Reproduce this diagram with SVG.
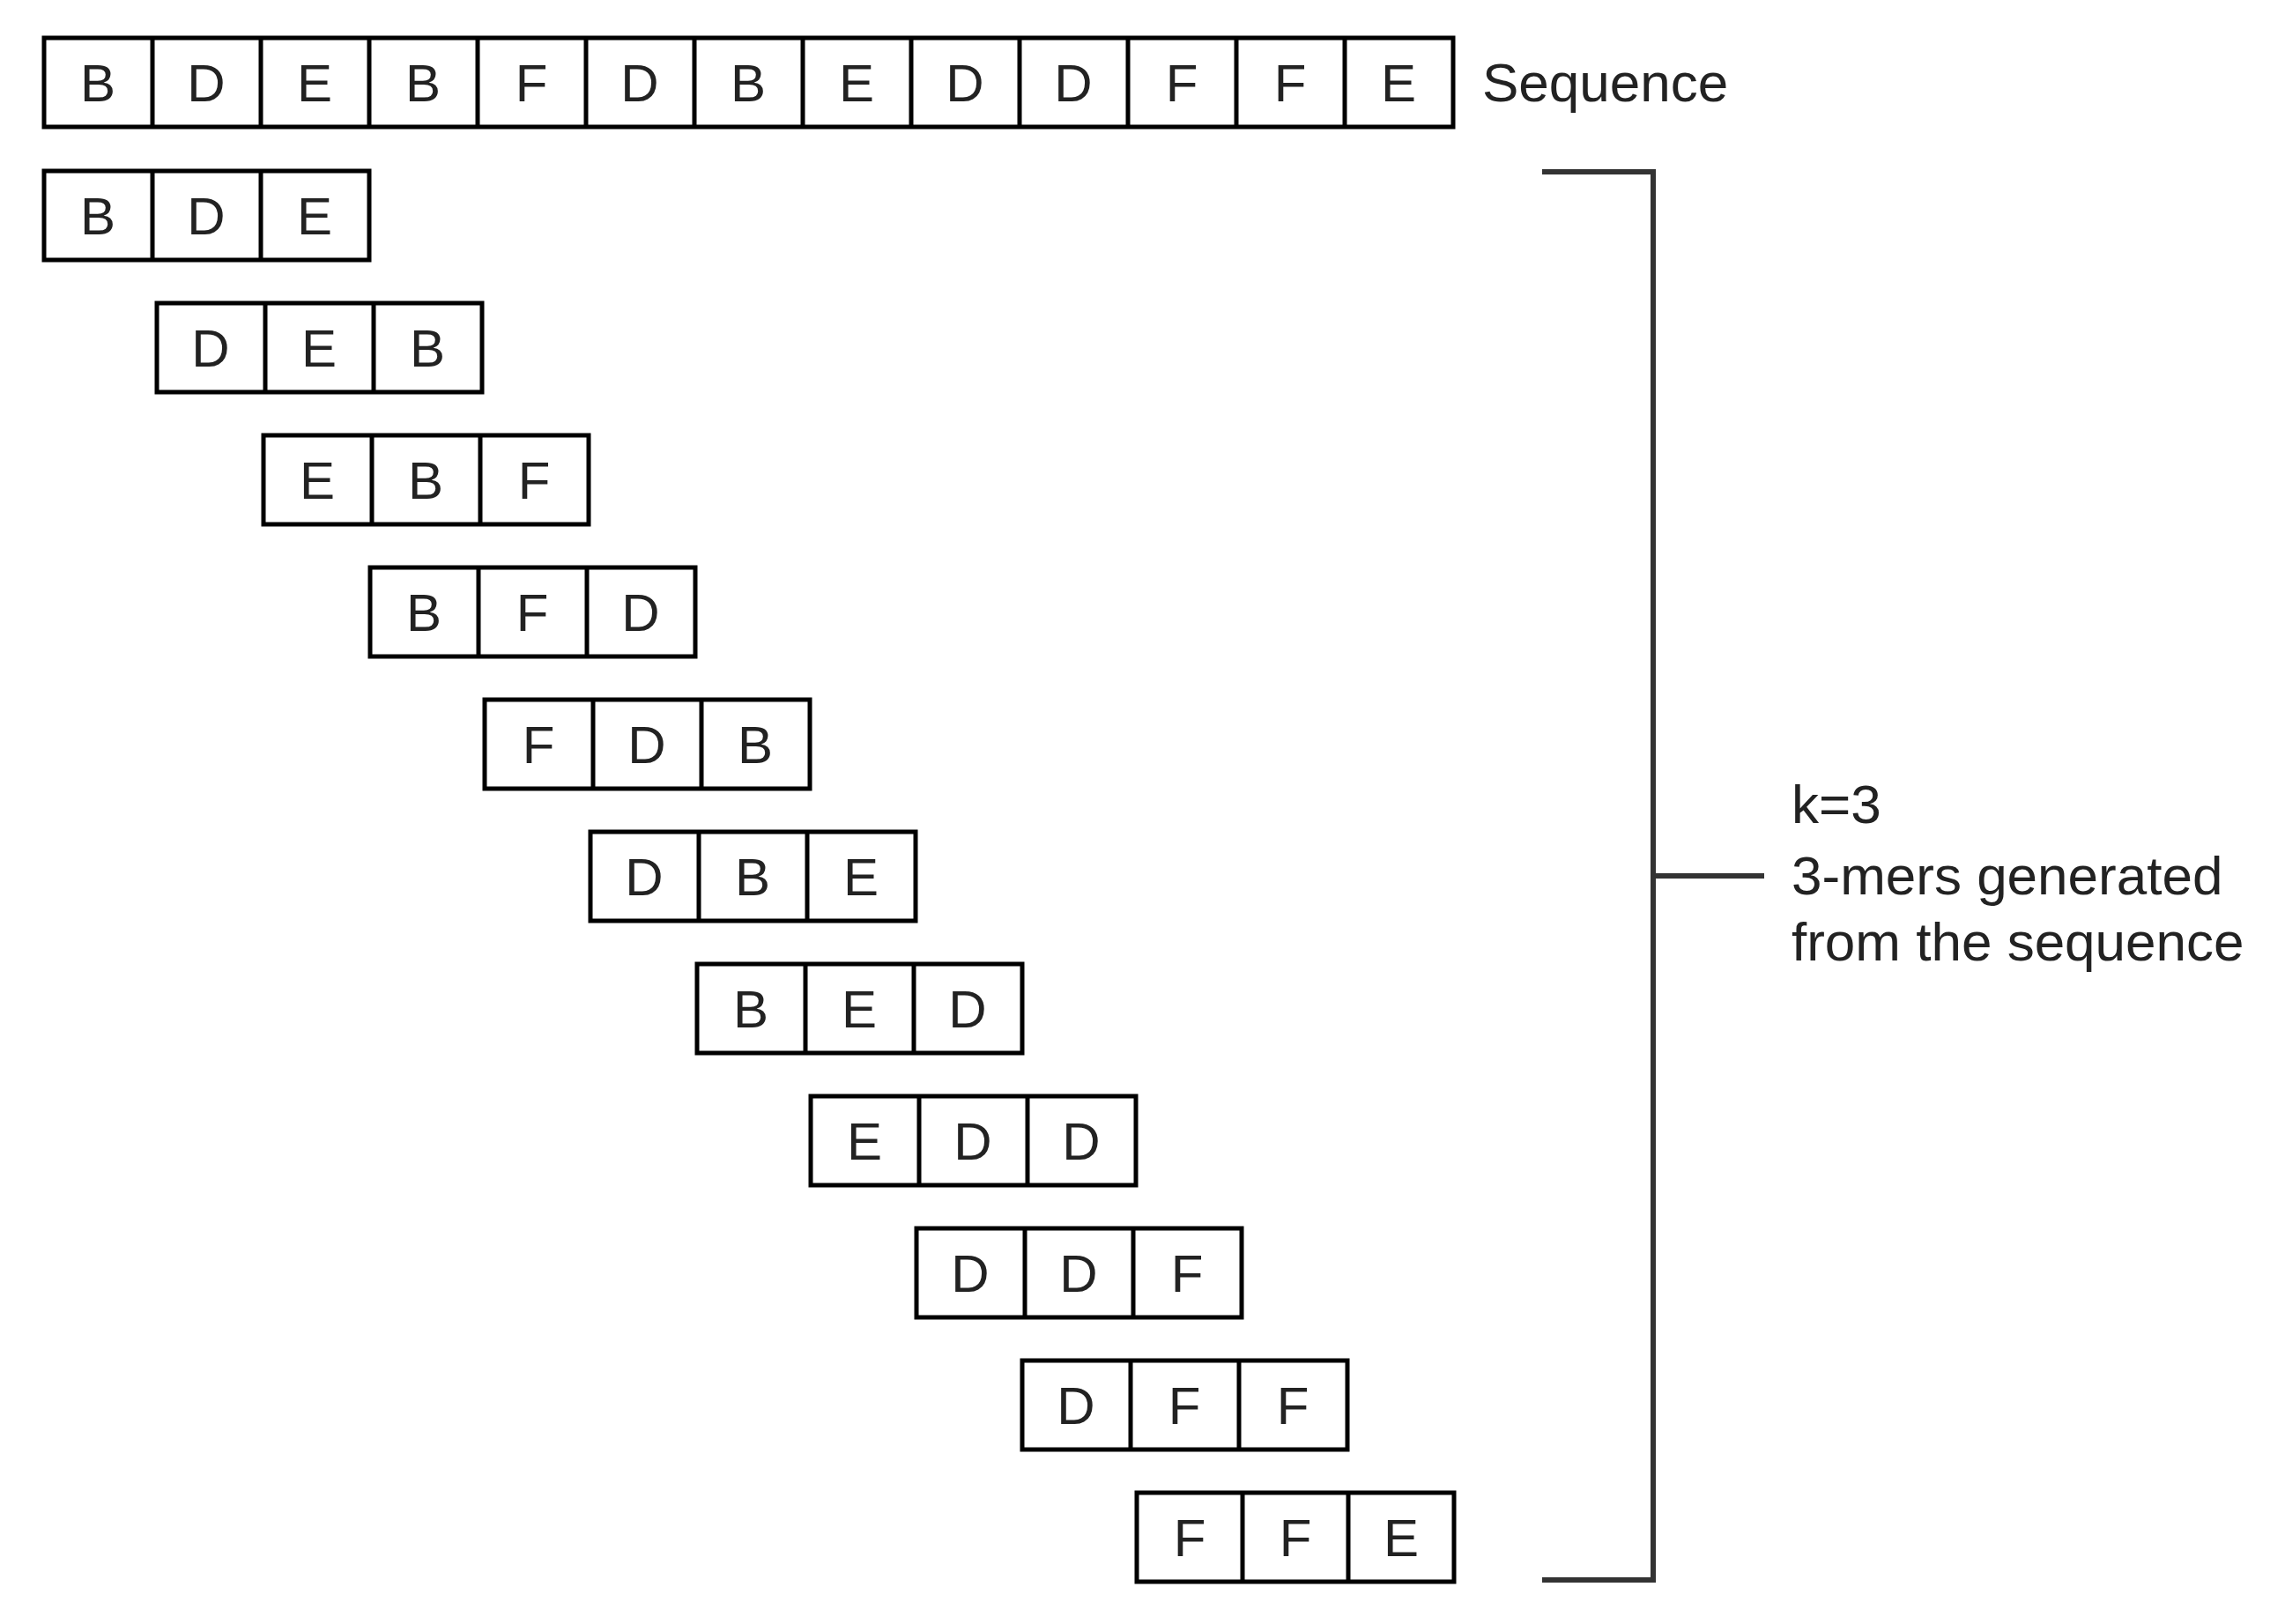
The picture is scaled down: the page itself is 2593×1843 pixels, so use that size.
<svg xmlns="http://www.w3.org/2000/svg" width="2593" height="1843" viewBox="0 0 2593 1843">
<style>
.c{fill:#fff;stroke:#000;stroke-width:5}
.t{font-family:"Liberation Sans",Arial,sans-serif;font-size:60px;fill:#222;text-anchor:middle}
.l{font-family:"Liberation Sans",Arial,sans-serif;font-size:62px;fill:#222}
.b{fill:none;stroke:#333;stroke-width:6}
</style>
<rect width="2593" height="1843" fill="#fff"/>
<g id="sequence">
<rect class="c" x="50" y="43" width="1599" height="101"/>
<g stroke="#000" stroke-width="5">
<line x1="173" y1="43" x2="173" y2="144"/><line x1="296" y1="43" x2="296" y2="144"/><line x1="419" y1="43" x2="419" y2="144"/><line x1="542" y1="43" x2="542" y2="144"/><line x1="665" y1="43" x2="665" y2="144"/><line x1="788" y1="43" x2="788" y2="144"/><line x1="911" y1="43" x2="911" y2="144"/><line x1="1034" y1="43" x2="1034" y2="144"/><line x1="1157" y1="43" x2="1157" y2="144"/><line x1="1280" y1="43" x2="1280" y2="144"/><line x1="1403" y1="43" x2="1403" y2="144"/><line x1="1526" y1="43" x2="1526" y2="144"/>
</g>
<g class="t">
<text x="111" y="115">B</text><text x="234" y="115">D</text><text x="357" y="115">E</text><text x="480" y="115">B</text><text x="603" y="115">F</text><text x="726" y="115">D</text><text x="849" y="115">B</text><text x="972" y="115">E</text><text x="1095" y="115">D</text><text x="1218" y="115">D</text><text x="1341" y="115">F</text><text x="1464" y="115">F</text><text x="1587" y="115">E</text>
</g>
<text class="l" x="1682" y="115">Sequence</text>
</g>
<g id="kmers">
<g id="k0" transform="translate(50,194)"><rect class="c" width="369" height="101"/><line x1="123" y1="0" x2="123" y2="101" stroke="#000" stroke-width="5"/><line x1="246" y1="0" x2="246" y2="101" stroke="#000" stroke-width="5"/><text class="t" x="61" y="72">B</text><text class="t" x="184" y="72">D</text><text class="t" x="307" y="72">E</text></g>
<g id="k1" transform="translate(178,344)"><rect class="c" width="369" height="101"/><line x1="123" y1="0" x2="123" y2="101" stroke="#000" stroke-width="5"/><line x1="246" y1="0" x2="246" y2="101" stroke="#000" stroke-width="5"/><text class="t" x="61" y="72">D</text><text class="t" x="184" y="72">E</text><text class="t" x="307" y="72">B</text></g>
<g id="k2" transform="translate(299,494)"><rect class="c" width="369" height="101"/><line x1="123" y1="0" x2="123" y2="101" stroke="#000" stroke-width="5"/><line x1="246" y1="0" x2="246" y2="101" stroke="#000" stroke-width="5"/><text class="t" x="61" y="72">E</text><text class="t" x="184" y="72">B</text><text class="t" x="307" y="72">F</text></g>
<g id="k3" transform="translate(420,644)"><rect class="c" width="369" height="101"/><line x1="123" y1="0" x2="123" y2="101" stroke="#000" stroke-width="5"/><line x1="246" y1="0" x2="246" y2="101" stroke="#000" stroke-width="5"/><text class="t" x="61" y="72">B</text><text class="t" x="184" y="72">F</text><text class="t" x="307" y="72">D</text></g>
<g id="k4" transform="translate(550,794)"><rect class="c" width="369" height="101"/><line x1="123" y1="0" x2="123" y2="101" stroke="#000" stroke-width="5"/><line x1="246" y1="0" x2="246" y2="101" stroke="#000" stroke-width="5"/><text class="t" x="61" y="72">F</text><text class="t" x="184" y="72">D</text><text class="t" x="307" y="72">B</text></g>
<g id="k5" transform="translate(670,944)"><rect class="c" width="369" height="101"/><line x1="123" y1="0" x2="123" y2="101" stroke="#000" stroke-width="5"/><line x1="246" y1="0" x2="246" y2="101" stroke="#000" stroke-width="5"/><text class="t" x="61" y="72">D</text><text class="t" x="184" y="72">B</text><text class="t" x="307" y="72">E</text></g>
<g id="k6" transform="translate(791,1094)"><rect class="c" width="369" height="101"/><line x1="123" y1="0" x2="123" y2="101" stroke="#000" stroke-width="5"/><line x1="246" y1="0" x2="246" y2="101" stroke="#000" stroke-width="5"/><text class="t" x="61" y="72">B</text><text class="t" x="184" y="72">E</text><text class="t" x="307" y="72">D</text></g>
<g id="k7" transform="translate(920,1244)"><rect class="c" width="369" height="101"/><line x1="123" y1="0" x2="123" y2="101" stroke="#000" stroke-width="5"/><line x1="246" y1="0" x2="246" y2="101" stroke="#000" stroke-width="5"/><text class="t" x="61" y="72">E</text><text class="t" x="184" y="72">D</text><text class="t" x="307" y="72">D</text></g>
<g id="k8" transform="translate(1040,1394)"><rect class="c" width="369" height="101"/><line x1="123" y1="0" x2="123" y2="101" stroke="#000" stroke-width="5"/><line x1="246" y1="0" x2="246" y2="101" stroke="#000" stroke-width="5"/><text class="t" x="61" y="72">D</text><text class="t" x="184" y="72">D</text><text class="t" x="307" y="72">F</text></g>
<g id="k9" transform="translate(1160,1544)"><rect class="c" width="369" height="101"/><line x1="123" y1="0" x2="123" y2="101" stroke="#000" stroke-width="5"/><line x1="246" y1="0" x2="246" y2="101" stroke="#000" stroke-width="5"/><text class="t" x="61" y="72">D</text><text class="t" x="184" y="72">F</text><text class="t" x="307" y="72">F</text></g>
<g id="k10" transform="translate(1290,1694)"><rect class="c" width="360" height="101"/><line x1="120" y1="0" x2="120" y2="101" stroke="#000" stroke-width="5"/><line x1="240" y1="0" x2="240" y2="101" stroke="#000" stroke-width="5"/><text class="t" x="60" y="72">F</text><text class="t" x="180" y="72">F</text><text class="t" x="300" y="72">E</text></g>
</g>
<g id="connectors">
<path class="b" d="M1750 195 H1876 V1793 H1750"/>
<line class="b" x1="1876" y1="994" x2="2002" y2="994"/>
</g>
<g id="label">
<text class="l" x="2033" y="934">k=3</text>
<text class="l" x="2033" y="1015">3-mers generated</text>
<text class="l" x="2033" y="1090">from the sequence</text>
</g>
</svg>
